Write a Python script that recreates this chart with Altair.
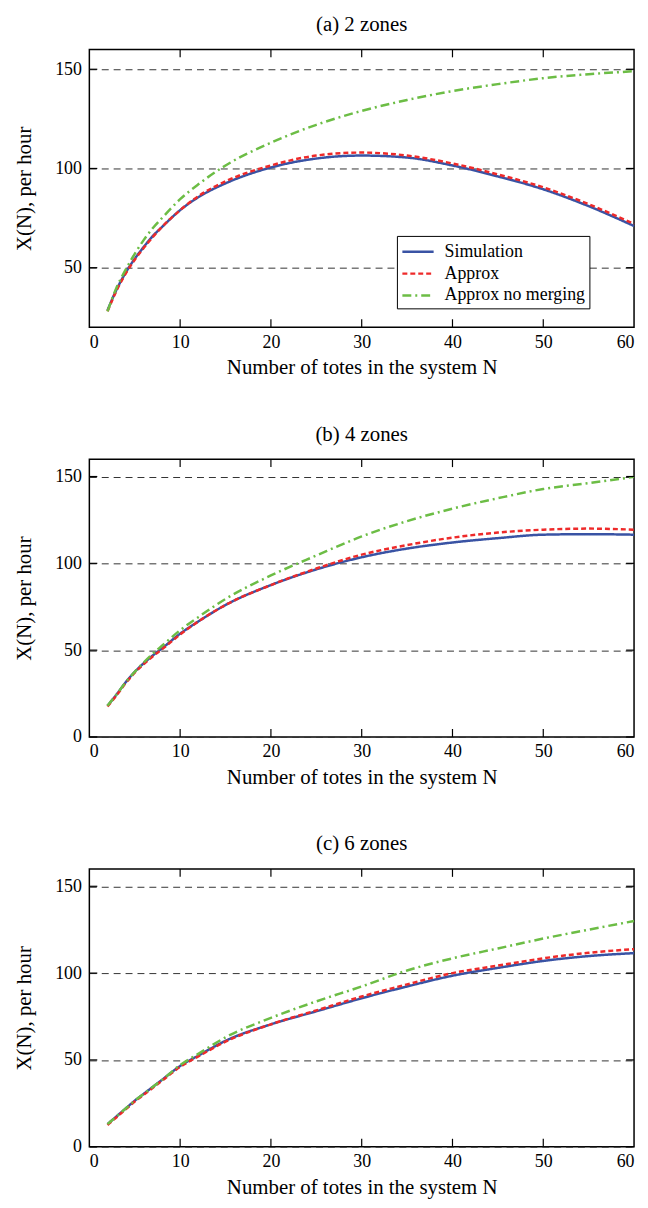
import altair as alt
import pandas as pd

# ---------------- data ----------------
N = [2, 3, 4, 5, 6, 7, 8, 10, 12, 15, 20, 25, 30, 35, 40, 45, 50, 55, 60]

# (a) 2 zones
sim_a = [28.5, 39, 47.5, 54.5, 60.5, 66, 70.5, 79, 85.5, 92.5, 100.5, 105, 106.5, 105.5, 101.5, 96, 89.5, 81, 71]
apx_a = [28, 38.5, 47, 54, 60, 65.5, 70.5, 79, 86, 93.5, 101.5, 106.5, 108, 106.5, 102.5, 97, 90.5, 82, 72]
nom_a = [28, 40, 49, 57, 64, 70, 75, 84.5, 92, 101.5, 113, 122, 129, 134.5, 139, 142.5, 145.5, 147.5, 149]

# (b) 4 zones
sim_b = [18, 24.5, 31.5, 37.5, 42.5, 47, 51, 59.5, 66.5, 76, 87.5, 96.5, 103.5, 108.5, 112, 114.5, 116.5, 116.8, 116.5]
apx_b = [17.5, 24, 31, 37, 42, 46.5, 50.5, 59, 66.5, 76, 87.5, 97, 105, 110.5, 114.8, 117.7, 119.4, 120, 119.4]
nom_b = [18, 24.5, 31.5, 37.5, 43, 48, 52.5, 61.5, 69, 79.5, 93, 104.5, 115.5, 124.3, 131.5, 137.5, 142.8, 146.2, 149.8]

# (c) 6 zones
sim_c = [13, 17.5, 22, 26.5, 30.5, 34.5, 38.5, 46.5, 52.5, 61, 70.5, 78, 85.5, 92.3, 98.5, 103, 107, 109.8, 111.5]
apx_c = [12.5, 17, 21.5, 26, 30, 34, 38, 46, 52, 60.5, 70.5, 78.5, 86.5, 93.5, 100, 104.3, 108.5, 111.7, 113.8]
nom_c = [13, 17.5, 22, 26.5, 30.5, 34.5, 38.5, 47, 53.5, 63, 74.2, 83.7, 92.3, 101.5, 108.5, 114.2, 119.9, 125, 130]

SERIES = ["Simulation", "Approx", "Approx no merging"]
TITLES = ["(a) 2 zones", "(b) 4 zones", "(c) 6 zones"]
X_TICKS = [0, 10, 20, 30, 40, 50, 60]
X_INNER = [10, 20, 30, 40, 50]
Y_TICKS_A = [50, 100, 150]
Y_TICKS_BC = [0, 50, 100, 150]

# ---------------- style ----------------
FONT = "'Liberation Serif', 'Times New Roman', Times, serif"
COLORS = ["#3953a4", "#ee2a2a", "#6cbd45"]
DASHES = [[1, 0], [5, 3], [9, 4, 2, 4]]
W, H = 549, 280


def panel(title, sim, apx, nom, ydom, yticks, show_legend):
    rows = []
    for s, vals in zip(SERIES, [sim, apx, nom]):
        rows += [{"N": n, "X": v, "series": s} for n, v in zip(N, vals)]
    df = pd.DataFrame(rows)

    xs = alt.Scale(domain=[0, 60], nice=False, zero=False)
    ys = alt.Scale(domain=ydom, nice=False, zero=False)
    ax_x = alt.Axis(values=X_TICKS, title="Number of totes in the system N", grid=False,
                    ticks=False, domain=False, labelPadding=6, titlePadding=6,
                    labelFontSize=18, titleFontSize=21, format="d")
    ax_y = alt.Axis(values=yticks, title="X(N), per hour", grid=True, gridDash=[7, 5],
                    gridColor="#333333", gridWidth=1, gridOpacity=1,
                    ticks=False, domain=False, labelPadding=8, titlePadding=20,
                    labelFontSize=18, titleFontSize=21, format="d")

    if show_legend:
        leg = alt.Legend(title=None, orient="none", legendX=310, legendY=188,
                         symbolType="M-1,0L2,0", symbolSize=441, symbolStrokeWidth=2.5,
                         symbolFillColor="transparent",
                         labelFont=FONT, labelFontSize=18, labelColor="black",
                         strokeColor="black", fillColor="white", padding=4,
                         rowPadding=1, labelOffset=20, labelLimit=400, cornerRadius=0)
    else:
        leg = None

    layers = []
    for s in SERIES:
        layers.append(
            alt.Chart(df).transform_filter(alt.datum.series == s)
            .mark_line(strokeWidth=2.5, interpolate="monotone")
            .encode(
                x=alt.X("N:Q", scale=xs, axis=ax_x),
                y=alt.Y("X:Q", scale=ys, axis=ax_y),
                color=alt.Color("series:N", scale=alt.Scale(domain=SERIES, range=COLORS), legend=leg),
                strokeDash=alt.StrokeDash("series:N", scale=alt.Scale(domain=SERIES, range=DASHES), legend=leg),
            )
        )

    xt = pd.DataFrame({"t": X_INNER})
    yt = pd.DataFrame({"t": yticks})
    tick_bottom = alt.Chart(xt).mark_rule(color="black", strokeWidth=1.2).encode(
        x=alt.X("t:Q", scale=xs, axis=ax_x), y=alt.value(H), y2=alt.value(H - 8))
    tick_top = alt.Chart(xt).mark_rule(color="black", strokeWidth=1.2).encode(
        x=alt.X("t:Q", scale=xs, axis=ax_x), y=alt.value(0), y2=alt.value(8))
    tick_left = alt.Chart(yt).mark_rule(color="black", strokeWidth=1.2).encode(
        y=alt.Y("t:Q", scale=ys, axis=ax_y), x=alt.value(0), x2=alt.value(8))
    tick_right = alt.Chart(yt).mark_rule(color="black", strokeWidth=1.2).encode(
        y=alt.Y("t:Q", scale=ys, axis=ax_y), x=alt.value(W - 8), x2=alt.value(W))

    return alt.layer(*layers, tick_bottom, tick_top, tick_left, tick_right).properties(
        width=W, height=H,
        title=alt.TitleParams(title, fontSize=21, font=FONT, fontWeight="normal",
                              anchor="middle", offset=14, color="black"),
    )


pa = panel(TITLES[0], sim_a, apx_a, nom_a, [20, 160], Y_TICKS_A, True)
pb = panel(TITLES[1], sim_b, apx_b, nom_b, [0, 160], Y_TICKS_BC, False)
pc = panel(TITLES[2], sim_c, apx_c, nom_c, [0, 160], Y_TICKS_BC, False)

chart = (
    alt.vconcat(pa, pb, pc, spacing=44)
    .resolve_legend(color="independent", strokeDash="independent")
    .properties(padding={"left": 5, "top": 0, "right": 0, "bottom": 0})
    .configure_view(stroke="black", strokeWidth=1.5)
    .configure_axis(labelFont=FONT, titleFont=FONT, labelColor="black", titleColor="black",
                    titleFontWeight="normal")
    .configure_title(font=FONT, color="black")
)

chart.save("out.html", embed_options={"renderer": "svg", "actions": False})
